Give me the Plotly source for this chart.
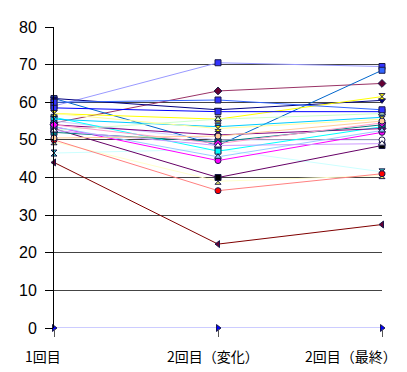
import plotly.graph_objects as go

categories = [0, 1, 2]
tick_labels = ["1回目", "2回目（変化）", "2回目（最終）"]
y_ticks = [0, 10, 20, 30, 40, 50, 60, 70, 80]

s01 = [0, 0, 0]
s02 = [59, 70.5, 69.5]
s03 = [54.5, 63, 65]
s04 = [49.5, 39, 40.5]
s05 = [46.5, 47.5, 41.5]
s06 = [53, 40, 48.5]
s07 = [50, 36.5, 41]
s08 = [61, 48.5, 68.5]
s09 = [55, 50, 50]
s10 = [61, 58, 60.5]
s11 = [53.5, 44.5, 52]
s12 = [57, 55.5, 61.5]
s13 = [56, 47, 53.5]
s14 = [54, 51.3, 53]
s15 = [44, 22.3, 27.5]
s16 = [52, 49.5, 54]
s17 = [58.5, 57.5, 57.5]
s18 = [55.5, 53.5, 56]
s19 = [52.5, 55.5, 57]
s20 = [57, 53, 55.5]
s21 = [53.5, 45.5, 52.5]
s22 = [54, 49, 54.5]
s23 = [52.5, 48.5, 49]
s24 = [50.5, 51, 55]
s25 = [60, 60.6, 58]

series = [s01, s02, s03, s04, s05, s06, s07, s08, s09, s10, s11, s12, s13,
          s14, s15, s16, s17, s18, s19, s20, s21, s22, s23, s24, s25]

line_colors = ["#9999FF", "#9999FF", "#993366", "#FFFFCC", "#CCFFFF", "#660066",
               "#FF8080", "#0066CC", "#CCCCFF", "#000080", "#FF00FF", "#FFFF00",
               "#00FFFF", "#800080", "#800000", "#008080", "#0000FF", "#00CCFF",
               "#CCFFCC", "#FFFF99", "#99CCFF", "#FF99CC", "#CC99FF", "#FFCC99",
               "#3366FF"]
marker_colors = ["#0000FF", "#3333FF", "#660033", "#FFFF66", "#33CCCC", "#000000",
                 "#FF0000", "#3366FF", "#FFFFFF", "#000080", "#FF00FF", "#FFFF00",
                 "#00FFFF", "#800080", "#660033", "#008080", "#3333FF", "#00CCFF",
                 "#CCFFCC", "#FFFF00", "#99CCFF", "#FF00FF", "#FFFFFF", "#FFCC99",
                 "#3333FF"]
symbols = ["triangle-right", "square", "diamond", "hourglass", "hourglass", "square",
           "circle", "square", "circle", "triangle-down", "circle", "hourglass",
           "square", "diamond", "triangle-left", "square", "square", "hourglass",
           "triangle-up", "hourglass", "triangle-up", "diamond", "triangle-up",
           "circle", "square"]

fig = go.Figure()
for i, vals in enumerate(series):
    fig.add_trace(go.Scatter(
        x=categories, y=vals, mode="lines+markers",
        line=dict(color=line_colors[i], width=1),
        marker=dict(symbol=symbols[i], size=6, color=marker_colors[i],
                    line=dict(color="#1a1a4a", width=1)),
        cliponaxis=False, showlegend=False, hoverinfo="skip"))

label_font = dict(family="Noto Sans CJK JP", size=14, color="#000000")
fig.add_annotation(x=categories[0], y=0, xref="x", yref="paper", text=tick_labels[0],
                   showarrow=False, xanchor="center", yanchor="top",
                   xshift=-11, yshift=-16, font=label_font)
fig.add_annotation(x=categories[1], y=0, xref="x", yref="paper", text=tick_labels[1],
                   showarrow=False, xanchor="center", yanchor="top",
                   xshift=-5, yshift=-16, font=label_font)
fig.add_annotation(x=1, y=0, xref="paper", yref="paper", text=tick_labels[2],
                   showarrow=False, xanchor="right", yanchor="top",
                   xshift=17, yshift=-16, font=label_font)

fig.update_layout(
    width=399, height=364,
    margin=dict(l=41, r=25, t=11, b=44),
    paper_bgcolor="white", plot_bgcolor="white",
    xaxis=dict(range=[0, 2], tickvals=categories, ticktext=["", "", ""],
               showgrid=False, zeroline=False, ticks="outside", ticklen=8,
               tickcolor="#555555", showline=False, fixedrange=True),
    yaxis=dict(range=[0, 80], tickvals=y_ticks, showgrid=True, gridcolor="#444444",
               gridwidth=1, zeroline=False, showline=True, linecolor="#000000",
               linewidth=1, ticks="outside", ticklen=8, tickcolor="#000000",
               ticklabelstandoff=5,
               tickfont=dict(family="Liberation Sans, Arial", size=16, color="#000000"),
               fixedrange=True),
)

fig.write_html("out.html")
